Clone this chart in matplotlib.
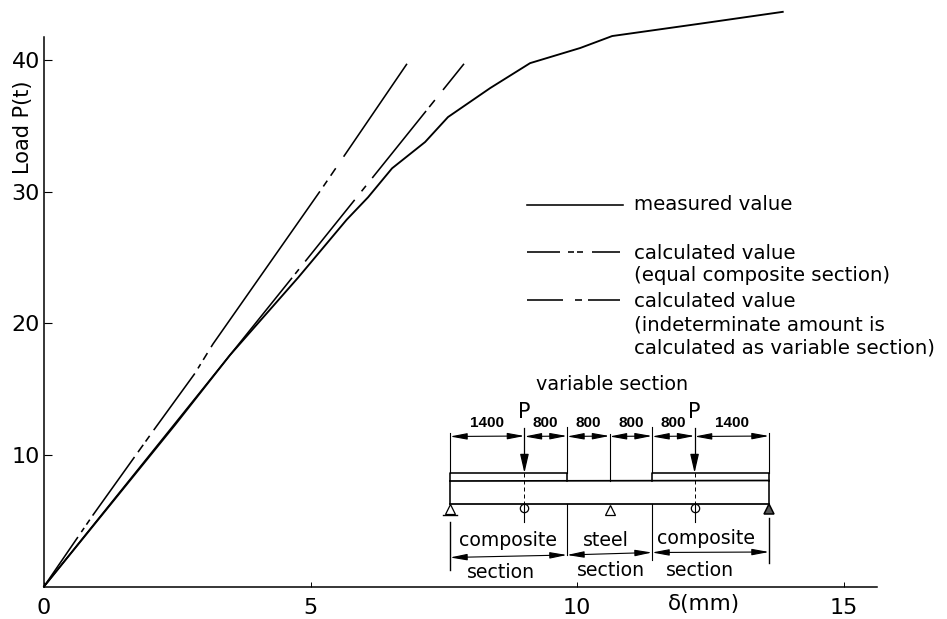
import numpy as np
import matplotlib
matplotlib.use("Agg")
import matplotlib.pyplot as plt

plt.rcParams["lines.scale_dashes"] = False
plt.rcParams["font.family"] = "DejaVu Sans"

# curves
measured_x = [0, 2.46, 3.49, 4.77, 5.68, 6.08, 6.53, 7.15, 7.58, 8.37, 9.12, 10.06, 10.66, 12.31, 13.86]
measured_y = [0, 12.3, 17.6, 23.5, 27.9, 29.6, 31.8, 33.8, 35.7, 37.9, 39.8, 40.95, 41.86, 42.8, 43.7]
equal_x = [0, 0.92, 2.06, 2.83, 3.17, 5.22, 6.81]
equal_y = [0, 5.44, 11.9, 16.2, 18.44, 30.3, 39.75]
variable_x = [0, 7.88]
variable_y = [0, 39.75]

x_ticks = [0, 5, 10, 15]
y_ticks = [10, 20, 30, 40]

spans = [1400, 800, 800, 800, 800, 1400]
span_labels = ["1400", "800", "800", "800", "800", "1400"]

legend_labels = ["measured value",
                 "calculated value\n(equal composite section)",
                 "calculated value\n(indeterminate amount is\ncalculated as variable section)"]

W, H = 947, 619
LW = 1.15


def px_dash(lengths):
    # dash lengths measured in pixels, matplotlib wants points
    return [v * 0.72 for v in lengths]


equal_dash = px_dash([60, 6, 5, 4, 6, 5, 72, 6, 9, 4, 7, 7, 70, 6, 5, 5, 8, 7,
                      190, 6, 7, 6, 9, 14, 125, 50])
variable_dash = px_dash([396, 5, 6, 10, 79, 11, 7, 10, 86, 5, 9, 13, 45, 50])

fig = plt.figure(figsize=(W / 100, H / 100), dpi=100)
ax = fig.add_axes([44 / W, 1 - 586.5 / H, 833 / W, 549.5 / H])
ax.set_xlim(0, 833 / 53.3)
ax.set_ylim(0, 549.5 / 13.15)

ax.plot(measured_x, measured_y, color="k", lw=LW + 0.2, clip_on=False)
ax.plot(equal_x, equal_y, color="k", lw=LW, dashes=equal_dash, clip_on=False)
ax.plot(variable_x, variable_y, color="k", lw=LW, dashes=variable_dash, clip_on=False)

for side in ["top", "right"]:
    ax.spines[side].set_visible(False)
for side in ["left", "bottom"]:
    ax.spines[side].set_linewidth(1.1)

ax.set_xticks(x_ticks)
ax.set_yticks(y_ticks)
ax.tick_params(axis="x", direction="in", length=3.5, width=0.7, labelsize=16, pad=8)
ax.tick_params(axis="y", direction="in", length=5.8, width=0.8, labelsize=16, pad=3)

# everything else is placed in picture pixels
over = fig.add_axes([0, 0, 1, 1])
over.set_xlim(0, W)
over.set_ylim(H, 0)
over.axis("off")
over.patch.set_alpha(0)

over.text(23, 127, "Load P(t)", rotation=90, fontsize=15, ha="center", va="center")
over.text(704, 604, "δ(mm)", fontsize=15.5, ha="center", va="center")

over.plot([527, 623], [205, 205], color="k", lw=LW)
over.plot([527, 621], [252, 252], color="k", lw=LW, dashes=px_dash([33, 8, 6, 3, 6, 9, 28, 10]))
over.plot([527, 621], [300, 300], color="k", lw=LW, dashes=px_dash([36, 12, 7, 6, 32, 10]))
over.text(634, 204, legend_labels[0], fontsize=14.2, va="center")
over.text(634, 264.5, legend_labels[1], fontsize=14.2, va="center", linespacing=1.21)
over.text(634, 325, legend_labels[2], fontsize=14.2, va="center", linespacing=1.28)
over.text(612, 384, "variable section", fontsize=13.8, ha="center", va="center")

# beam sketch: x in mm along the beam, y still in pixel rows
beam = fig.add_axes([450 / W, 1 - 590 / H, 319 / W, 210 / H])
beam.set_xlim(0, sum(spans))
beam.set_ylim(590, 380)
beam.axis("off")
beam.patch.set_alpha(0)

edges = np.cumsum([0] + spans)
left_end, load_l, slab_l, mid, slab_r, load_r, right_end = edges


def bline(xs, ys, lw=LW, **kw):
    beam.plot(xs, ys, color="k", lw=lw, clip_on=False, **kw)


def dim_arrow(x0, x1, y0, y1):
    beam.annotate("", xy=(x1, y1), xytext=(x0, y0), annotation_clip=False,
                  arrowprops=dict(arrowstyle="<|-|>,head_length=0.85,head_width=0.16",
                                  color="k", lw=0.8, shrinkA=0, shrinkB=0, mutation_scale=12))


# slabs and steel beam
bline([left_end, left_end, slab_l, slab_l], [481, 473, 473, 481])
bline([slab_r, slab_r, right_end, right_end], [481, 473, 473, 481])
bline([left_end, right_end], [481, 480.5], lw=LW + 0.1)
bline([left_end, right_end], [504, 504], lw=LW + 0.1)
bline([left_end, left_end], [481, 504])
bline([right_end, right_end], [481, 504])

# top dimension line
for i in range(len(spans)):
    dim_arrow(edges[i], edges[i + 1], 436.5, 436)
    beam.text((edges[i] + edges[i + 1]) / 2, 423, span_labels[i], fontsize=11,
              fontweight="bold", ha="center", va="center", family="Liberation Sans")
bline([left_end, left_end], [433, 473], lw=0.8)
bline([right_end, right_end], [433, 473], lw=0.8)
bline([slab_l, slab_l], [427, 473], lw=0.8)
bline([slab_r, slab_r], [427, 473], lw=0.8)
bline([mid, mid], [434, 481], lw=0.8)

# loads, dashed lines to the pin under the beam
for pos in [load_l, load_r]:
    bline([pos, pos], [428, 462], lw=0.9)
    beam.annotate("", xy=(pos, 473), xytext=(pos, 455), annotation_clip=False,
                  arrowprops=dict(arrowstyle="-|>,head_length=0.95,head_width=0.22",
                                  color="k", lw=0.9, shrinkA=0, shrinkB=0, mutation_scale=12))
    bline([pos, pos], [473, 504], lw=0.7, dashes=px_dash([4, 3]))
    beam.plot([pos], [508], "o", ms=6, mfc="white", mec="k", mew=0.9, clip_on=False)
    bline([pos, pos], [504, 522], lw=0.8)
    beam.text(pos, 411.5, "P", fontsize=15, ha="center", va="center")

# supports
beam.plot([left_end, mid], [508.5, 509.5], "^", ms=7, mfc="white", mec="k", mew=0.9, clip_on=False)
beam.plot([right_end], [509], "^", ms=7, mfc="#555555", mec="k", mew=1.1, clip_on=False)
bline([left_end - 130, left_end + 130], [515, 515], lw=1.0)

# bottom dimension line and section names
bline([left_end, left_end], [522, 570], lw=1.0)
bline([slab_l, slab_l], [504, 555], lw=0.8)
bline([slab_r, slab_r], [504, 560], lw=0.8)
bline([right_end, right_end], [518, 563], lw=1.0)
dim_arrow(left_end, slab_l, 557.5, 555)
dim_arrow(slab_l, slab_r, 555, 552.5)
dim_arrow(slab_r, right_end, 552.5, 552)

section_names = ["composite", "steel", "composite"]
name_x = [1100, 2940, 4820]
name_y = [540, 541, 539]
section_x = [960, 3030, 4700]
section_y = [572, 571, 570]
for name, nx, ny in zip(section_names, name_x, name_y):
    beam.text(nx, ny, name, fontsize=13.6, ha="center", va="center")
for sx, sy in zip(section_x, section_y):
    beam.text(sx, sy, "section", fontsize=13.6, ha="center", va="center")

fig.savefig("out.png", dpi=100)
